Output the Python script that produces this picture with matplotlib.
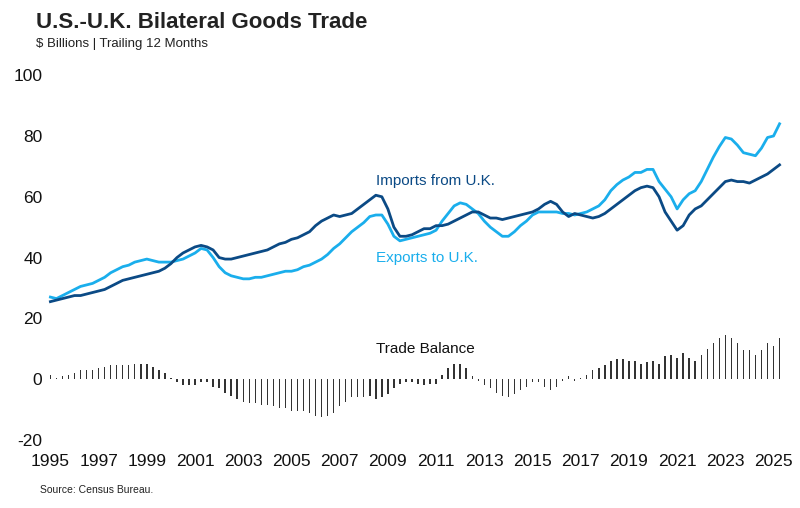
import matplotlib.pyplot as plt
import numpy as np
plt.rcParams['font.family'] = 'Liberation Sans'
plt.rcParams['axes.unicode_minus'] = False

imports = [25.5,26,26.5,27, 27.5,27.5,28,28.5, 29,29.5,30.5,31.5, 32.5,33,33.5,34,
 34.5,35,35.5,36.5, 38,40,41.5,42.5, 43.5,44,43.5,42.5, 40,39.5,39.5,40,
 40.5,41,41.5,42, 42.5,43.5,44.5,45, 46,46.5,47.5,48.5, 50.5,52,53,54,
 53.5,54,54.5,56, 57.5,59,60.5,60, 56,50,47,47, 47.5,48.5,49.5,49.5,
 50.5,50.5,51,52, 53,54,55,55, 54,53,53,52.5, 53,53.5,54,54.5,
 55,56,57.5,58.5, 57.5,55,53.5,54.5, 54,53.5,53,53.5, 54.5,56,57.5,59,
 60.5,62,63,63.5, 63,60,55,52, 49,50.5,54,56, 57,59,61,63,
 65,65.5,65,65, 64.5,65.5,66.5,67.5, 69,70.5]
exports = [27,26.5,27.5,28.5, 29.5,30.5,31,31.5, 32.5,33.5,35,36, 37,37.5,38.5,39,
 39.5,39,38.5,38.5, 38.5,39,39.5,40.5, 41.5,43,42.5,40, 37,35,34,33.5,
 33,33,33.5,33.5, 34,34.5,35,35.5, 35.5,36,37,37.5, 38.5,39.5,41,43,
 44.5,46.5,48.5,50, 51.5,53.5,54,54, 51,47,45.5,46, 46.5,47,47.5,48,
 49,52,54.5,57, 58,57.5,56,54.5, 52,50,48.5,47, 47,48.5,50.5,52,
 54,55,55,55, 55,54.5,54.5,54, 54.5,55,56,57, 59,62,64,65.5,
 66.5,68,68,69, 69,65,62.5,60, 56,59,61,62, 65,69,73,76.5,
 79.5,79,77,74.5, 74,73.5,76,79.5, 80,84]
start_year = 1995
years = start_year + np.arange(len(imports)) / 4
balance = np.array(exports) - np.array(imports)
xticks = list(range(1995, 2026, 2))
yticks = [-20, 0, 20, 40, 60, 80, 100]

fig = plt.figure(figsize=(8, 5.08), dpi=100)
ax = fig.add_axes([0.06, 0.134, 0.925, 0.718])
ax.bar(years, balance, width=0.06, color='#333333', zorder=1)
ax.plot(years, exports, color='#1aaeec', lw=2.0, zorder=2)
ax.plot(years, imports, color='#0b4a85', lw=2.0, zorder=3)
ax.set_ylim(-20, 100)
ax.set_xlim(1994.9, 2025.6)
ax.set_xticks(xticks)
ax.set_yticks(yticks)
for s in ax.spines.values():
    s.set_visible(False)
ax.tick_params(length=0, labelsize=12.5, colors='#111111')
ax.tick_params(axis='y', pad=4)
ax.tick_params(axis='x', pad=10)
ax.text(2008.5, 64, 'Imports from U.K.', color='#0b4a85', fontsize=11)
ax.text(2008.5, 38.5, 'Exports to U.K.', color='#1aaeec', fontsize=11)
ax.text(2008.5, 8.5, 'Trade Balance', color='#111111', fontsize=11)
fig.text(0.045, 0.945, 'U.S.-U.K. Bilateral Goods Trade', fontsize=16, fontweight='bold', color='#222222')
fig.text(0.045, 0.907, '$ Billions | Trailing 12 Months', fontsize=9.5, color='#222222')
fig.text(0.05, 0.03, 'Source: Census Bureau.', fontsize=7.5, color='#222222')
fig.savefig('out.png', dpi=100)
